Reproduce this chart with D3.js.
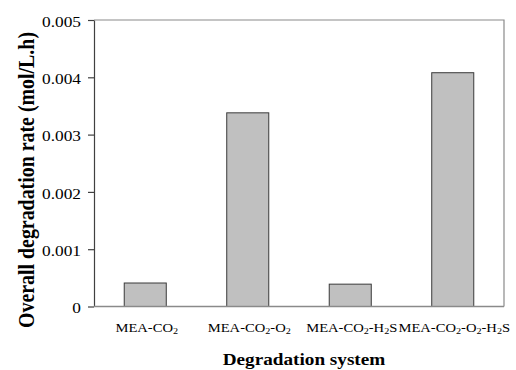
<!DOCTYPE html>
<html>
<head>
<meta charset="utf-8">
<script src="https://cdn.jsdelivr.net/npm/d3@7"></script>
<style>
  html, body { margin: 0; padding: 0; background: #fff; }
  svg { display: block; }
  text { font-family: "Liberation Serif", "Times New Roman", serif; fill: #000; }
</style>
</head>
<body>
<svg id="chart" width="516" height="370"></svg>
<script>
// Degradation systems and their overall rates (mol/L.h)
const systems = ["MEA-CO2", "MEA-CO2-O2", "MEA-CO2-H2S", "MEA-CO2-O2-H2S"];
const rates = [0.00041, 0.00338, 0.00039, 0.00408];
const yTicks = [0, 0.001, 0.002, 0.003, 0.004, 0.005];
const yTickLabels = ["0", "0.001", "0.002", "0.003", "0.004", "0.005"];

const svg = d3.select("#chart");
const plot = { left: 94, right: 504, top: 20, bottom: 306.5 };

const x = d3.scaleBand().domain(systems).range([plot.left, plot.right]).paddingInner(0.59).paddingOuter(0.295);
const y = d3.scaleLinear().domain([0, 0.005]).range([plot.bottom, plot.top]);

// frame (top and right edges)
svg.append("path")
  .attr("d", `M${plot.left},${plot.top}H${plot.right}V${plot.bottom}`)
  .attr("fill", "none").attr("stroke", "#8a8a8a").attr("stroke-width", 1.2);

// bars
svg.append("g").selectAll("rect").data(rates).join("rect")
  .attr("x", (d, i) => x(systems[i]))
  .attr("y", d => y(d))
  .attr("width", x.bandwidth())
  .attr("height", d => y(0) - y(d))
  .attr("fill", "#c0c0c0")
  .attr("stroke", "#3a3a3a")
  .attr("stroke-width", 1);

// y axis
const yAxis = svg.append("g")
  .attr("transform", `translate(${plot.left},0)`)
  .call(d3.axisLeft(y).tickValues(yTicks).tickSize(6).tickSizeOuter(0).tickFormat(() => ""));
yAxis.select(".domain").attr("stroke", "#404040").attr("stroke-width", 1.2);
yAxis.selectAll(".tick line").attr("stroke", "#404040").attr("stroke-width", 1.2);

// y tick labels (wide-set serif)
yTicks.forEach((v, i) => {
  svg.append("g")
    .attr("transform", `translate(${plot.left - 13},${y(v) + 6.7}) scale(1.17,1)`)
    .append("text")
    .attr("text-anchor", "end")
    .attr("font-size", 14.8)
    .text(yTickLabels[i]);
});

// x baseline
svg.append("line")
  .attr("x1", plot.left).attr("x2", plot.right)
  .attr("y1", plot.bottom).attr("y2", plot.bottom)
  .attr("stroke", "#8a8a8a").attr("stroke-width", 1.4);

// x category labels with chemical subscripts
systems.forEach(name => {
  const t = svg.append("g")
    .attr("transform", `translate(${x(name) + x.bandwidth() / 2 + 1.5},${331.5}) scale(1.27,1)`)
    .append("text")
    .attr("text-anchor", "middle")
    .attr("font-size", 11.5);
  let shifted = false;
  name.split(/(\d)/).filter(s => s.length).forEach(part => {
    const isSub = /^\d$/.test(part);
    const tspan = t.append("tspan").text(part);
    if (isSub) {
      tspan.attr("font-size", 8).attr("dy", 2.5);
      shifted = true;
    } else if (shifted) {
      tspan.attr("dy", -2.5);
      shifted = false;
    }
  });
});

// axis titles
svg.append("g")
  .attr("transform", `translate(304,365) scale(1.2,1)`)
  .append("text")
  .attr("text-anchor", "middle")
  .attr("font-size", 16)
  .attr("font-weight", "bold")
  .text("Degradation system");

svg.append("g")
  .attr("transform", `translate(33.5,180) scale(1.15,1) rotate(-90)`)
  .append("text")
  .attr("text-anchor", "middle")
  .attr("font-size", 19.5)
  .attr("font-weight", "bold")
  .attr("textLength", 296)
  .attr("lengthAdjust", "spacingAndGlyphs")
  .text("Overall degradation rate (mol/L.h)");
</script>
</body>
</html>
